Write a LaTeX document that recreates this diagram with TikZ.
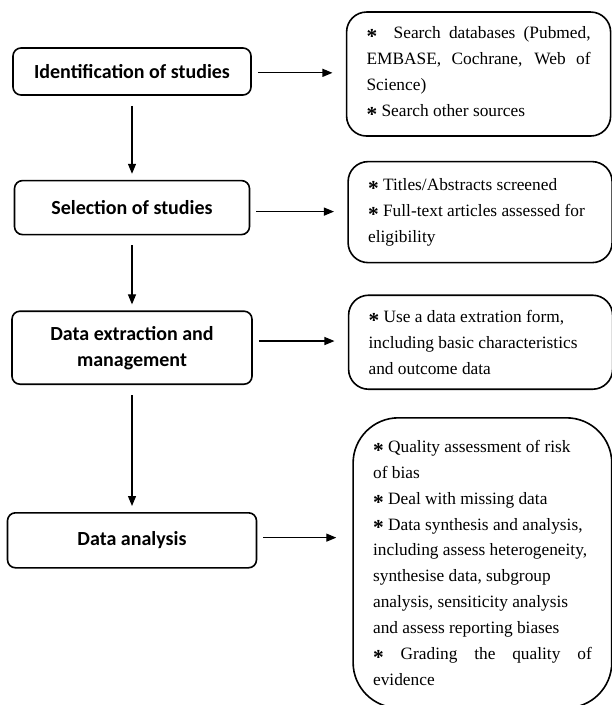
\documentclass[tikz,border=0pt]{standalone}
\usepackage{fontspec}
\setmainfont{Liberation Serif}
\newfontfamily\stagefont{Carlito}
\usepackage{tikz}
\usetikzlibrary{arrows.meta,positioning,calc}
\newcommand\bul{\raisebox{-3.7pt}{\fontsize{16}{16}\selectfont\bfseries *}}

\begin{document}
\begin{tikzpicture}[x=0.75pt,y=-0.75pt,
    stage/.style={draw=black,line width=1.2pt,rounded corners=6pt,
                  align=center,inner sep=2pt,
                  font=\stagefont\bfseries\fontsize{15}{19.5}\selectfont},
    note/.style={draw=black,line width=1.2pt,rounded corners=15pt,
                 text width=168pt,inner xsep=15pt,align=justify,
                 font=\fontsize{13}{19.4}\selectfont},
    arr/.style={-{Triangle[length=7.5pt,width=6pt]},line width=0.9pt,black}
  ]
    \useasboundingbox (0,0) rectangle (611,705);

    % left column
    \node[stage,minimum width=178.5pt,minimum height=35.25pt] (ident) at (132,71.5)
      {Identification of studies};
    \node[stage,minimum width=176.25pt,minimum height=40.5pt,below=63pt of ident] (select)
      {Selection of studies};
    \node[stage,minimum width=180pt,minimum height=54.75pt,below=56.25pt of select] (extract)
      {Data extraction and\\management};
    \node[stage,minimum width=186.75pt,minimum height=41.25pt,below=95.25pt of extract] (analysis)
      {Data analysis};

    % right column
    \node[note,minimum height=93pt,right=70.5pt of ident,yshift=-1.9pt] (idnote)
      {\bul\ \ Search databases (Pubmed,\linebreak EMBASE, Cochrane, Web of\linebreak
       Science)\\{\bul} Search other sources};
    \node[note,minimum height=75.75pt,right=72.75pt of select,yshift=-3.4pt] (selnote)
      {\bul\ Titles/Abstracts screened\\{\bul}\ Full-text articles assessed for\\eligibility};
    \node[note,minimum height=70.5pt,right=71.25pt of extract,yshift=4.1pt] (extnote)
      {\bul\ Use a data extration form,\\including basic characteristics\\and outcome data};
    \node[note,text width=164pt,rounded corners=34pt,minimum height=217.5pt,
          right=71.25pt of analysis,yshift=-16.9pt] (annote)
      {\bul\ Quality assessment of risk\\of bias\\{\bul}\ Deal with missing data\\
       {\bul}\ Data synthesis and analysis,\\including assess heterogeneity,\\
       synthesise data, subgroup\\analysis, sensiticity analysis\\
       and assess reporting biases\\{\bul}\ Grading the quality of\linebreak evidence};

    % connectors
    \draw[arr,shorten <=7.5pt,shorten >=4.5pt] (ident) -- (select);
    \draw[arr,shorten <=7.5pt,shorten >=4.5pt] (select) -- (extract);
    \draw[arr,shorten <=7.5pt,shorten >=4.5pt] (extract) -- (analysis);

    \draw[arr,shorten <=4.5pt,shorten >=10pt] ([yshift=-1pt]ident.east) -- ([yshift=-1pt]ident.east -| idnote.west);
    \draw[arr,shorten <=4.5pt,shorten >=10pt] ([yshift=-3pt]select.east) -- ([yshift=-3pt]select.east -| selnote.west);
    \draw[arr,shorten <=4.5pt,shorten >=10pt] ([yshift=5pt]extract.east) -- ([yshift=5pt]extract.east -| extnote.west);
    \draw[arr,shorten <=4.5pt,shorten >=12pt] ([yshift=2pt]analysis.east) -- ([yshift=2pt]analysis.east -| annote.west);
  \end{tikzpicture}
\end{document}
